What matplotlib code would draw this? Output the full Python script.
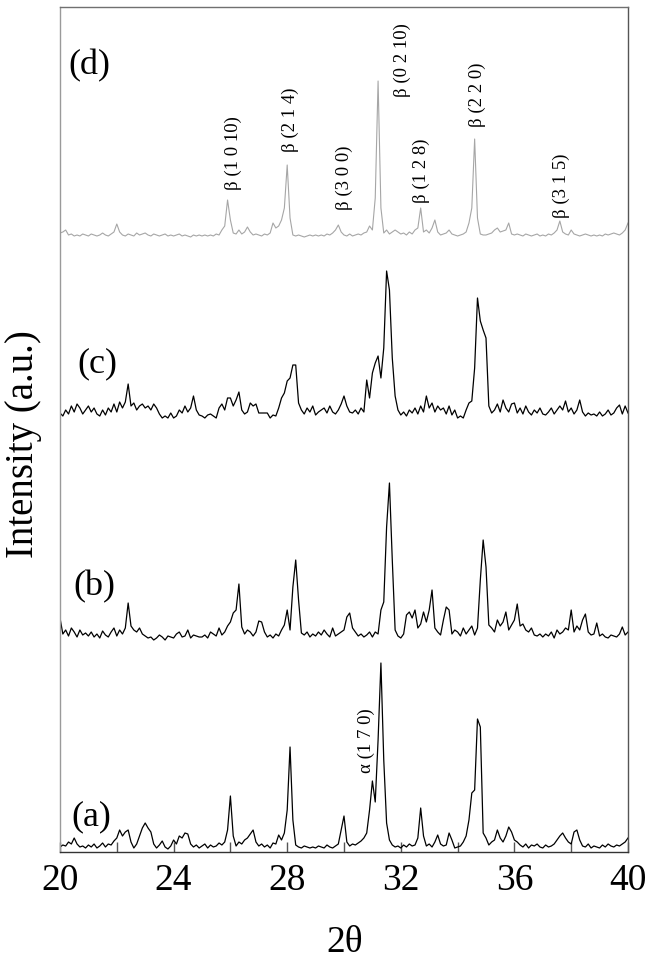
import numpy as np
import matplotlib
matplotlib.use("Agg")
import matplotlib.pyplot as plt
from matplotlib.ticker import MultipleLocator

plt.rcParams['font.family'] = ['Liberation Serif', 'DejaVu Serif']

# 2theta grid (degrees), step 0.1 from 20 to 40
two_theta = np.round(np.arange(200, 401) / 10.0, 1)

# Intensities (a.u.), one value per 0.1 degree
trace_a = [3, 5, 4, 8, 6, 12, 6, 3, 4, 2,
           5, 3, 6, 2, 4, 7, 3, 6, 5, 9,
           12, 20, 14, 18, 20, 8, 2, 6, 14, 22,
           27, 22, 18, 6, 2, 5, 9, 3, 1, 4,
           10, 6, 14, 12, 17, 16, 6, 3, 5, 2,
           4, 6, 2, 5, 3, 4, 7, 5, 8, 20,
           54, 14, 4, 8, 6, 10, 12, 16, 20, 8,
           4, 6, 3, 5, 2, 7, 6, 15, 10, 17,
           40, 103, 30, 5, 3, 2, 4, 3, 2, 3,
           2, 4, 3, 2, 5, 3, 2, 4, 6, 20,
           34, 8, 4, 6, 5, 7, 9, 12, 17, 40,
           69, 48, 110, 187, 90, 27, 10, 5, 3, 4,
           2, 5, 3, 6, 4, 5, 12, 42, 14, 4,
           6, 3, 8, 15, 6, 4, 5, 17, 10, 2,
           3, 4, 8, 14, 30, 57, 60, 131, 123, 17,
           12, 5, 8, 10, 20, 12, 8, 14, 23, 18,
           10, 8, 5, 3, 6, 2, 5, 4, 6, 3,
           2, 5, 3, 4, 6, 10, 14, 17, 12, 8,
           6, 18, 20, 10, 4, 3, 6, 2, 4, 3,
           2, 5, 3, 6, 4, 3, 5, 4, 6, 8,
           12]

trace_b = [22, 6, 10, 4, 12, 8, 3, 10, 5, 7,
           4, 8, 3, 6, 2, 9, 5, 3, 8, 12,
           4, 10, 6, 12, 37, 14, 10, 8, 12, 6,
           4, 2, 3, 0, 2, 5, 3, 0, 4, 3,
           2, 6, 8, 3, 4, 10, 2, 5, 4, 3,
           3, 5, 2, 8, 6, 4, 12, 5, 8, 14,
           18, 27, 30, 56, 13, 6, 10, 8, 4, 8,
           19, 18, 8, 3, 5, 2, 6, 4, 10, 15,
           30, 10, 53, 80, 40, 7, 5, 8, 3, 6,
           4, 8, 5, 10, 6, 3, 12, 4, 6, 8,
           10, 23, 27, 12, 8, 4, 6, 3, 5, 8,
           3, 8, 6, 30, 38, 113, 157, 80, 10, 4,
           2, 6, 25, 28, 22, 30, 12, 16, 28, 18,
           30, 50, 12, 8, 5, 20, 33, 30, 6, 10,
           8, 4, 12, 6, 10, 14, 5, 12, 60, 100,
           73, 15, 12, 8, 20, 14, 18, 28, 10, 15,
           20, 36, 14, 16, 10, 8, 12, 5, 4, 6,
           3, 6, 4, 8, 2, 10, 6, 8, 12, 10,
           30, 8, 14, 10, 20, 26, 8, 5, 6, 17,
           4, 6, 3, 2, 5, 4, 3, 6, 13, 5,
           8]

trace_c = [5, 2, 8, 4, 12, 6, 14, 10, 4, 8,
           12, 6, 10, 4, 2, 8, 3, 10, 6, 14,
           6, 16, 10, 16, 34, 12, 15, 8, 12, 14,
           10, 12, 8, 14, 10, 4, 0, 2, 0, 5,
           0, 2, 8, 5, 12, 6, 10, 22, 8, 3,
           2, 0, 3, 4, 2, 0, 10, 14, 8, 20,
           20, 12, 18, 26, 8, 4, 6, 15, 12, 14,
           5, 5, 5, 5, 0, 3, 2, 10, 20, 25,
           37, 40, 53, 53, 15, 8, 4, 10, 6, 12,
           3, 6, 8, 10, 5, 12, 6, 4, 8, 14,
           22, 12, 6, 5, 8, 4, 10, 6, 38, 20,
           45, 55, 62, 40, 70, 147, 128, 60, 22, 8,
           3, 6, 2, 8, 5, 10, 4, 12, 6, 22,
           10, 15, 6, 12, 8, 10, 4, 12, 3, 8,
           0, 2, 0, 8, 15, 17, 50, 120, 97, 88,
           80, 12, 5, 8, 14, 6, 18, 10, 6, 14,
           15, 5, 10, 4, 12, 6, 3, 8, 5, 10,
           4, 3, 6, 10, 4, 8, 12, 8, 17, 6,
           10, 4, 8, 18, 6, 2, 5, 3, 4, 2,
           6, 2, 4, 8, 3, 5, 10, 13, 4, 12,
           5]

trace_d = [5, 6, 8, 3, 4, 2, 3, 2, 4, 3,
           2, 4, 3, 2, 3, 5, 3, 2, 4, 6,
           14, 6, 3, 2, 4, 3, 2, 5, 3, 4,
           5, 3, 2, 4, 3, 2, 3, 4, 2, 3,
           2, 3, 4, 2, 3, 2, 1, 3, 2, 3,
           2, 3, 2, 3, 2, 4, 3, 8, 12, 38,
           18, 5, 4, 8, 4, 6, 11, 6, 3, 4,
           3, 2, 4, 3, 5, 15, 10, 12, 18, 30,
           73, 20, 3, 2, 3, 2, 1, 2, 3, 2,
           3, 2, 3, 2, 4, 3, 5, 8, 13, 6,
           3, 2, 4, 2, 3, 4, 3, 5, 6, 12,
           8, 40, 157, 30, 5, 8, 4, 6, 8, 6,
           4, 5, 3, 6, 4, 8, 10, 30, 6, 8,
           5, 10, 18, 6, 3, 4, 5, 8, 4, 3,
           2, 3, 4, 6, 15, 30, 99, 20, 4, 3,
           3, 4, 5, 8, 10, 6, 7, 8, 15, 4,
           3, 4, 3, 2, 4, 3, 2, 3, 4, 2,
           3, 2, 4, 3, 5, 8, 17, 6, 4, 3,
           8, 4, 3, 2, 3, 4, 3, 2, 3, 2,
           3, 2, 4, 3, 4, 5, 4, 3, 5, 8,
           15]

trace_names = ['(a)', '(b)', '(c)', '(d)']
trace_offsets = [2, 212, 434, 614]

peak_labels = ['β (1 0 10)', 'β (2 1 4)', 'β (3 0 0)', 'β (0 2 10)',
               'β (1 2 8)', 'β (2 2 0)', 'β (3 1 5)', 'α (1 7 0)']
peak_label_x = [26.09, 28.10, 30.00, 32.04, 32.71, 34.68, 37.64, 30.77]
peak_label_y = [662, 700, 642, 755, 649, 725, 634, 79]

fig = plt.figure(figsize=(6.51, 9.63), dpi=100)
ax = fig.add_axes([60/651, 1 - 852/963, 568/651, 845/963])

traces = [trace_a, trace_b, trace_c, trace_d]
colors = ['black', 'black', 'black', '#a6a6a6']
lws = [0.9, 0.9, 0.9, 0.8]
for tr, off, c, lw in zip(traces, trace_offsets, colors, lws):
    ax.plot(two_theta, np.array(tr) + off, color=c, lw=lw)

ax.set_xlim(20, 40)
ax.set_ylim(0, 845)
ax.xaxis.set_major_locator(MultipleLocator(4))
ax.xaxis.set_minor_locator(MultipleLocator(2))
ax.tick_params(axis='x', which='both', direction='in', length=7, width=1,
               color='#555555', labelsize=27, pad=8, top=False)
ax.tick_params(axis='y', which='both', left=False, labelleft=False)

for side, col in [('left', '#9a9a9a'), ('top', '#707070'),
                  ('right', '#555555'), ('bottom', '#333333')]:
    ax.spines[side].set_color(col)
    ax.spines[side].set_linewidth(1.0)

# panel labels
panel_pos = [(91, 817), (94, 587), (97, 364), (89, 66)]
for name, (px, py) in zip(trace_names, panel_pos):
    fig.text(px/651, 1 - py/963, name, fontsize=26, ha='center', va='center')

for lab, x, y in zip(peak_labels, peak_label_x, peak_label_y):
    ax.text(x, y, lab, rotation=90, fontsize=13.5, ha='center', va='bottom')

fig.text(345/651, 1 - 943/963, '2θ', fontsize=27, ha='center', va='center')
fig.text(24/651, 1 - 444/963, 'Intensity (a.u.)', fontsize=28,
         rotation=90, ha='center', va='center')

fig.savefig('out.png', dpi=100)
